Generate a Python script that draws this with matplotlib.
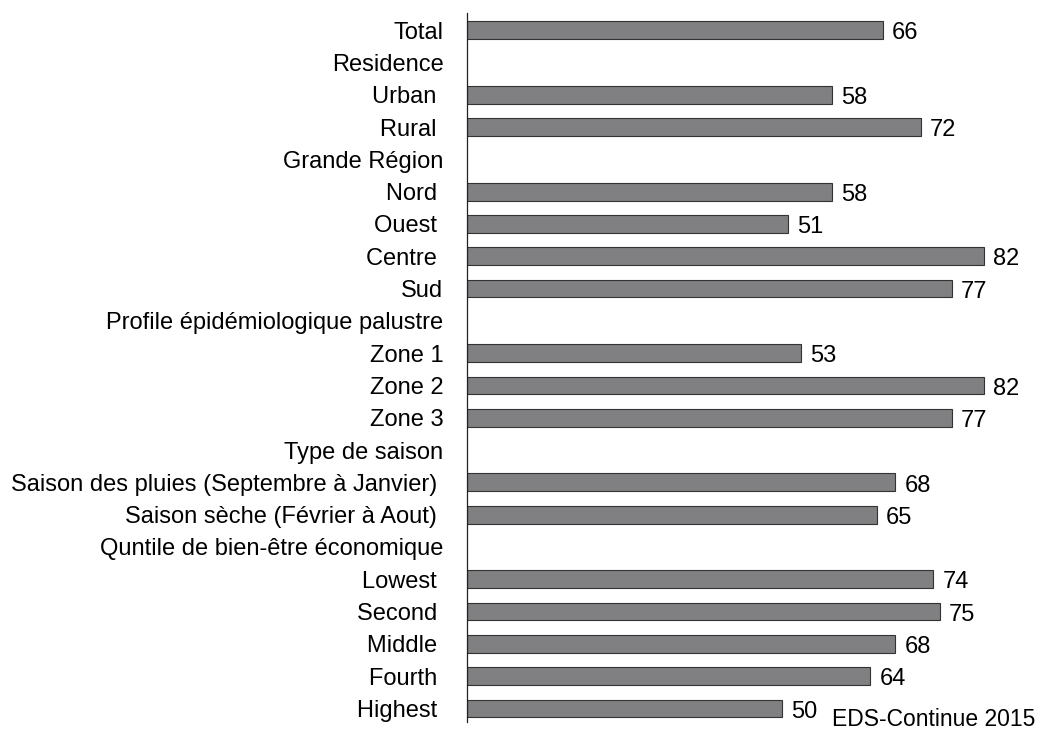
import matplotlib.pyplot as plt

plt.rcParams['font.family'] = ['Liberation Sans', 'DejaVu Sans']

labels = ["Total", "Residence", "Urban ", "Rural ", "Grande Région", "Nord ", "Ouest ",
          "Centre ", "Sud", "Profile épidémiologique palustre", "Zone 1", "Zone 2", "Zone 3",
          "Type de saison", "Saison des pluies (Septembre à Janvier) ",
          "Saison sèche (Février à Aout) ", "Quntile de bien-être économique",
          "Lowest ", "Second ", "Middle ", "Fourth ", "Highest "]
values = [66, None, 58, 72, None, 58, 51, 82, 77, None, 53, 82, 77, None,
          68, 65, None, 74, 75, 68, 64, 50]
source = "EDS-Continue 2015"

fig = plt.figure(figsize=(10.43, 7.37), dpi=100)
ax = fig.add_axes([467 / 1043, 15 / 737, 567 / 1043, 709 / 737])

ys = list(range(len(labels)))
for y, v in zip(ys, values):
    if v is None:
        continue
    ax.barh(y, v, height=0.55, color='#808083', edgecolor='#333333', linewidth=0.8)
    ax.text(v + 1.45, y + 0.1, str(v), va='center', ha='left', fontsize=17)

ax.set_yticks(ys)
ax.set_yticklabels(labels, fontsize=17)
ax.tick_params(axis='y', length=0, pad=17)
ax.set_xticks([])
ax.set_xlim(0, 90)
ax.set_ylim(21.42, -0.53)
for s in ['top', 'right', 'bottom']:
    ax.spines[s].set_visible(False)
ax.spines['left'].set_color('#222222')
ax.spines['left'].set_linewidth(0.9)

fig.text(1035 / 1043, 6 / 737, source, ha='right', va='bottom', fontsize=16.5)

fig.savefig('out.png', dpi=100)
